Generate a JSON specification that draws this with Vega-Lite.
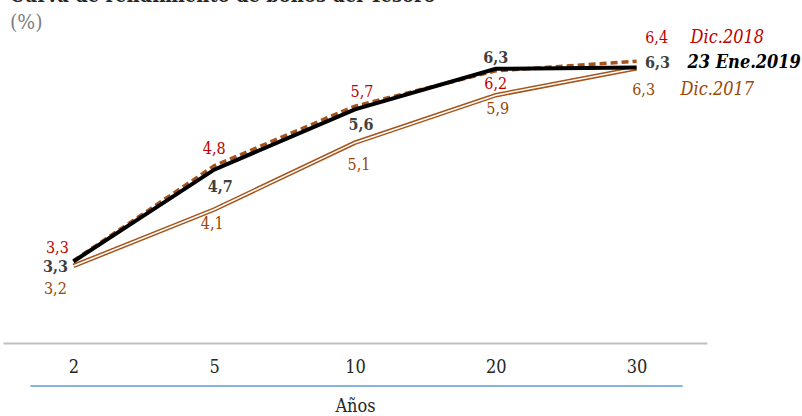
{
  "$schema": "https://vega.github.io/schema/vega-lite/v6.json",
  "width": 704,
  "height": 321,
  "autosize": {"type": "none"},
  "padding": {"left": 3, "top": 22, "right": 95, "bottom": 73},
  "background": "white",
  "config": {
    "view": {"stroke": null},
    "locale": {"number": {"decimal": ",", "thousands": ".", "grouping": [3], "currency": ["", " €"]}},
    "text": {"font": "DejaVu Serif Condensed, DejaVu Serif, serif"},
    "title": {"font": "DejaVu Serif Condensed, DejaVu Serif, serif", "subtitleFont": "DejaVu Serif Condensed, DejaVu Serif, serif"}
  },
  "title": {
    "text": "Curva de rendimiento de bonos del Tesoro",
    "subtitle": "(%)",
    "anchor": "start",
    "frame": "group",
    "fontSize": 20,
    "fontWeight": "bold",
    "color": "#262626",
    "subtitleFontSize": 21,
    "subtitleColor": "#7f7f7f",
    "subtitlePadding": 6,
    "offset": -30,
    "dx": 7,
    "dy": -19
  },
  "data": {
    "values": [
      {"plazo": "2", "serie": "Dic.2017", "valor": 3.20},
      {"plazo": "5", "serie": "Dic.2017", "valor": 4.08},
      {"plazo": "10", "serie": "Dic.2017", "valor": 5.12},
      {"plazo": "20", "serie": "Dic.2017", "valor": 5.86},
      {"plazo": "30", "serie": "Dic.2017", "valor": 6.28},
      {"plazo": "2", "serie": "Dic.2018", "valor": 3.28},
      {"plazo": "5", "serie": "Dic.2018", "valor": 4.76},
      {"plazo": "10", "serie": "Dic.2018", "valor": 5.69},
      {"plazo": "20", "serie": "Dic.2018", "valor": 6.24},
      {"plazo": "30", "serie": "Dic.2018", "valor": 6.39},
      {"plazo": "2", "serie": "23 Ene.2019", "valor": 3.27},
      {"plazo": "5", "serie": "23 Ene.2019", "valor": 4.70},
      {"plazo": "10", "serie": "23 Ene.2019", "valor": 5.64},
      {"plazo": "20", "serie": "23 Ene.2019", "valor": 6.27},
      {"plazo": "30", "serie": "23 Ene.2019", "valor": 6.29}
    ]
  },
  "encoding": {
    "x": {
      "field": "plazo",
      "type": "ordinal",
      "scale": {"type": "point", "padding": 0.5, "domain": ["2", "5", "10", "20", "30"]},
      "title": "Años",
      "axis": {
        "labelAngle": 0,
        "ticks": false,
        "domainColor": "#bfbfbf",
        "domainWidth": 2,
        "labelFont": "DejaVu Serif Condensed, DejaVu Serif, serif",
        "labelFontSize": 18,
        "labelColor": "#262626",
        "labelPadding": 15,
        "titleFont": "DejaVu Serif Condensed, DejaVu Serif, serif",
        "titleFontSize": 18,
        "titleFontWeight": "normal",
        "titleColor": "#262626",
        "titlePadding": 21
      }
    },
    "y": {
      "field": "valor",
      "type": "quantitative",
      "scale": {"domain": [2, 7], "nice": false, "zero": false},
      "axis": null
    }
  },
  "layer": [
    {
      "data": {"values": [{"desde": "2", "hasta": "30", "nivel": 1.33}]},
      "mark": {"type": "rule", "color": "#5b9bd5", "strokeWidth": 1.5, "xOffset": -43, "x2Offset": 46},
      "encoding": {
        "x": {"field": "desde", "type": "ordinal"},
        "x2": {"field": "hasta"},
        "y": {"field": "nivel", "type": "quantitative"}
      }
    },
    {
      "transform": [{"filter": "datum.serie == 'Dic.2017'"}],
      "mark": {"type": "line", "color": "#a5541a", "strokeWidth": 4.5},
      "encoding": {}
    },
    {
      "transform": [{"filter": "datum.serie == 'Dic.2017'"}],
      "mark": {"type": "line", "color": "#ffffff", "strokeWidth": 1.5},
      "encoding": {}
    },
    {
      "transform": [{"filter": "datum.serie == 'Dic.2018'"}],
      "mark": {"type": "line", "color": "#a5541a", "strokeWidth": 3.5, "strokeDash": [7, 4]},
      "encoding": {}
    },
    {
      "transform": [{"filter": "datum.serie == '23 Ene.2019'"}],
      "mark": {"type": "line", "color": "#000000", "strokeWidth": 4},
      "encoding": {}
    },

    {"transform": [{"filter": "datum.serie == 'Dic.2018' && datum.plazo == '2'"}],
     "mark": {"type": "text", "fontSize": 16, "color": "#c00000", "dx": -16, "dy": -13},
     "encoding": {"text": {"field": "valor", "type": "quantitative", "format": ".1f"}}},
    {"transform": [{"filter": "datum.serie == 'Dic.2018' && datum.plazo == '5'"}],
     "mark": {"type": "text", "fontSize": 16, "color": "#c00000", "dx": 0, "dy": -17},
     "encoding": {"text": {"field": "valor", "type": "quantitative", "format": ".1f"}}},
    {"transform": [{"filter": "datum.serie == 'Dic.2018' && datum.plazo == '10'"}],
     "mark": {"type": "text", "fontSize": 16, "color": "#c00000", "dx": 7, "dy": -14},
     "encoding": {"text": {"field": "valor", "type": "quantitative", "format": ".1f"}}},
    {"transform": [{"filter": "datum.serie == 'Dic.2018' && datum.plazo == '20'"}],
     "mark": {"type": "text", "fontSize": 16, "color": "#c00000", "dx": 0, "dy": 13},
     "encoding": {"text": {"field": "valor", "type": "quantitative", "format": ".1f"}}},
    {"transform": [{"filter": "datum.serie == 'Dic.2018' && datum.plazo == '30'"}],
     "mark": {"type": "text", "fontSize": 16, "color": "#c00000", "dx": 20, "dy": -23},
     "encoding": {"text": {"field": "valor", "type": "quantitative", "format": ".1f"}}},
    {"transform": [{"filter": "datum.serie == 'Dic.2018' && datum.plazo == '30'"}],
     "mark": {"type": "text", "fontSize": 18, "fontStyle": "italic", "color": "#c00000", "align": "left", "dx": 54, "dy": -23},
     "encoding": {"text": {"field": "serie"}}},

    {"transform": [{"filter": "datum.serie == '23 Ene.2019' && datum.plazo == '2'"}],
     "mark": {"type": "text", "fontSize": 16, "fontWeight": "bold", "color": "#404040", "dx": -18, "dy": 6},
     "encoding": {"text": {"field": "valor", "type": "quantitative", "format": ".1f"}}},
    {"transform": [{"filter": "datum.serie == '23 Ene.2019' && datum.plazo == '5'"}],
     "mark": {"type": "text", "fontSize": 16, "fontWeight": "bold", "color": "#404040", "dx": 6, "dy": 17},
     "encoding": {"text": {"field": "valor", "type": "quantitative", "format": ".1f"}}},
    {"transform": [{"filter": "datum.serie == '23 Ene.2019' && datum.plazo == '10'"}],
     "mark": {"type": "text", "fontSize": 16, "fontWeight": "bold", "color": "#404040", "dx": 6, "dy": 16},
     "encoding": {"text": {"field": "valor", "type": "quantitative", "format": ".1f"}}},
    {"transform": [{"filter": "datum.serie == '23 Ene.2019' && datum.plazo == '20'"}],
     "mark": {"type": "text", "fontSize": 16, "fontWeight": "bold", "color": "#404040", "dx": 0, "dy": -11},
     "encoding": {"text": {"field": "valor", "type": "quantitative", "format": ".1f"}}},
    {"transform": [{"filter": "datum.serie == '23 Ene.2019' && datum.plazo == '30'"}],
     "mark": {"type": "text", "fontSize": 16, "fontWeight": "bold", "color": "#404040", "dx": 21, "dy": -5},
     "encoding": {"text": {"field": "valor", "type": "quantitative", "format": ".1f"}}},
    {"transform": [{"filter": "datum.serie == '23 Ene.2019' && datum.plazo == '30'"}],
     "mark": {"type": "text", "fontSize": 18, "fontWeight": "bold", "fontStyle": "italic", "color": "#000000", "align": "left", "dx": 51, "dy": -5},
     "encoding": {"text": {"field": "serie"}}},

    {"transform": [{"filter": "datum.serie == 'Dic.2017' && datum.plazo == '2'"}],
     "mark": {"type": "text", "fontSize": 16, "color": "#984807", "dx": -18, "dy": 23},
     "encoding": {"text": {"field": "valor", "type": "quantitative", "format": ".1f"}}},
    {"transform": [{"filter": "datum.serie == 'Dic.2017' && datum.plazo == '5'"}],
     "mark": {"type": "text", "fontSize": 16, "color": "#984807", "dx": -2, "dy": 15},
     "encoding": {"text": {"field": "valor", "type": "quantitative", "format": ".1f"}}},
    {"transform": [{"filter": "datum.serie == 'Dic.2017' && datum.plazo == '10'"}],
     "mark": {"type": "text", "fontSize": 16, "color": "#984807", "dx": 4, "dy": 22},
     "encoding": {"text": {"field": "valor", "type": "quantitative", "format": ".1f"}}},
    {"transform": [{"filter": "datum.serie == 'Dic.2017' && datum.plazo == '20'"}],
     "mark": {"type": "text", "fontSize": 16, "color": "#984807", "dx": 2, "dy": 14},
     "encoding": {"text": {"field": "valor", "type": "quantitative", "format": ".1f"}}},
    {"transform": [{"filter": "datum.serie == 'Dic.2017' && datum.plazo == '30'"}],
     "mark": {"type": "text", "fontSize": 16, "color": "#984807", "dx": 7, "dy": 22},
     "encoding": {"text": {"field": "valor", "type": "quantitative", "format": ".1f"}}},
    {"transform": [{"filter": "datum.serie == 'Dic.2017' && datum.plazo == '30'"}],
     "mark": {"type": "text", "fontSize": 18, "fontStyle": "italic", "color": "#984807", "align": "left", "dx": 44, "dy": 22},
     "encoding": {"text": {"field": "serie"}}}
  ]
}
